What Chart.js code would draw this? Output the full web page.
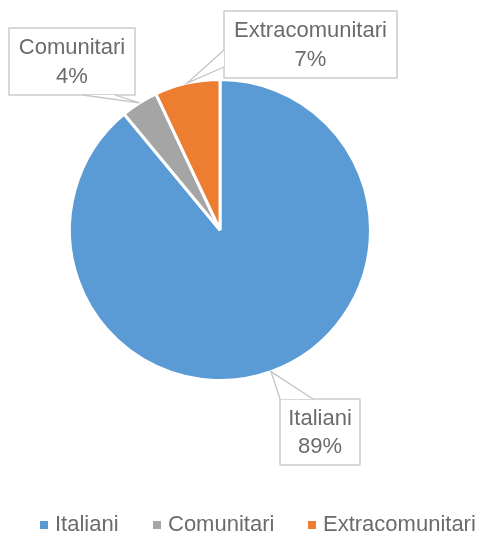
<!DOCTYPE html>
<html>
<head>
<meta charset="utf-8">
<script src="https://cdn.jsdelivr.net/npm/chart.js@4/dist/chart.umd.min.js"></script>
<style>
  html, body { margin: 0; padding: 0; background: #fff; }
  #wrap { width: 486px; height: 538px; }
</style>
</head>
<body>
<div id="wrap"><canvas id="pie"></canvas></div>
<script>
// dati
const categories = ["Italiani", "Comunitari", "Extracomunitari"];
const values = [89, 4, 7];
const percentLabels = ["89%", "4%", "7%"];
const colors = ["#5B9BD5", "#A5A5A5", "#ED7D31"];

const FONT = "'Liberation Sans', sans-serif";
const TEXT = "#6b6b6b";

// riquadri delle etichette: box e base del "fumetto"
const callouts = [
    { box: [280, 399, 80, 66], base: [[280, 399], [313, 399]] },
    { box: [9, 28, 126, 67], base: [[83, 95], [115, 95]] },
    { box: [224, 11, 173, 67], base: [[224, 50], [224, 67]] }
];

const calloutPlugin = {
    id: "callouts",
    afterDatasetsDraw(chart) {
        const ctx = chart.ctx;
        const meta = chart.getDatasetMeta(0);
        ctx.save();
        meta.data.forEach((arc, i) => {
            const c = callouts[i];
            const mid = (arc.startAngle + arc.endAngle) / 2;
            const tipX = arc.x + Math.cos(mid) * arc.outerRadius;
            const tipY = arc.y + Math.sin(mid) * arc.outerRadius;
            const [bx, by, bw, bh] = c.box;

            ctx.lineWidth = 1.3;
            ctx.strokeStyle = "#c4c4c4";
            ctx.fillStyle = "#fff";
            ctx.fillRect(bx, by, bw, bh);
            ctx.strokeRect(bx, by, bw, bh);

            // punta del fumetto
            ctx.beginPath();
            ctx.moveTo(c.base[0][0], c.base[0][1]);
            ctx.lineTo(tipX, tipY);
            ctx.lineTo(c.base[1][0], c.base[1][1]);
            ctx.closePath();
            ctx.fill();
            ctx.beginPath();
            ctx.moveTo(c.base[0][0], c.base[0][1]);
            ctx.lineTo(tipX, tipY);
            ctx.lineTo(c.base[1][0], c.base[1][1]);
            ctx.stroke();

            ctx.fillStyle = TEXT;
            ctx.font = "22px " + FONT;
            ctx.textAlign = "center";
            ctx.textBaseline = "middle";
            const cx = bx + bw / 2;
            ctx.fillText(chart.data.labels[i], cx, by + bh * 0.3);
            ctx.fillText(percentLabels[i], cx, by + bh * 0.73);
        });

        // legenda in basso
        const legendX = [40, 153, 308];
        const y = 525;
        ctx.font = "22px " + FONT;
        ctx.textAlign = "left";
        ctx.textBaseline = "middle";
        chart.data.labels.forEach((lab, i) => {
            ctx.fillStyle = colors[i];
            ctx.fillRect(legendX[i], y - 4, 8, 8);
            ctx.fillStyle = TEXT;
            ctx.fillText(lab, legendX[i] + 15, y);
        });
        ctx.restore();
    }
};

new Chart(document.getElementById("pie"), {
    type: "pie",
    data: {
        labels: categories,
        datasets: [{
            data: values,
            backgroundColor: colors,
            borderColor: "#fff",
            borderWidth: 3
        }]
    },
    options: {
        responsive: true,
        maintainAspectRatio: false,
        animation: false,
        layout: { padding: { top: 78, bottom: 156, left: 68, right: 114 } },
        plugins: {
            legend: { display: false },
            tooltip: { enabled: false }
        }
    },
    plugins: [calloutPlugin]
});
</script>
</body>
</html>
